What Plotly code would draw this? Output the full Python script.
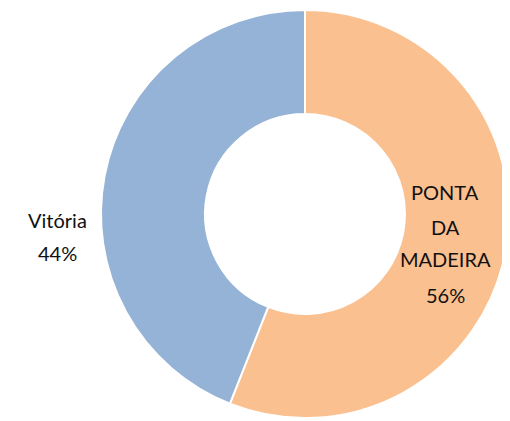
import plotly.graph_objects as go

labels = ["PONTA DA MADEIRA", "Vitória"]
values = [56, 44]
colors = ["#FAC090", "#95B3D7"]

W, H = 510, 421
OFF = 8  # default page body margin

fig = go.Figure()
fig.add_trace(go.Pie(
    labels=labels, values=values, hole=0.49, sort=False,
    direction="clockwise", rotation=0,
    marker=dict(colors=colors, line=dict(color="white", width=2)),
    textinfo="none", hoverinfo="label+percent", showlegend=False,
    domain=dict(x=[(101 - OFF) / W, (509 - OFF) / W],
                y=[1 - (418 - OFF) / H, 1 - (10 - OFF) / H]),
))

font = dict(family="Lato, Open Sans, sans-serif", size=20, color="#111111")
total = sum(values)
pct = [round(v / total * 100) for v in values]

lines_pm = ["PONTA", "DA", "MADEIRA", "%d%%" % pct[0]]
ys_pm = [192, 227, 259, 295]
for t, yy in zip(lines_pm, ys_pm):
    fig.add_annotation(x=(445 - OFF) / W, y=1 - (yy - OFF) / H, xref="paper", yref="paper",
                       text=t, showarrow=False, font=font, xanchor="center", yanchor="middle")

lines_v = ["Vitória", "%d%%" % pct[1]]
ys_v = [220, 253]
for t, yy in zip(lines_v, ys_v):
    fig.add_annotation(x=(57 - OFF) / W, y=1 - (yy - OFF) / H, xref="paper", yref="paper",
                       text=t, showarrow=False, font=font, xanchor="center", yanchor="middle")

fig.update_layout(width=W, height=H, margin=dict(l=0, r=0, t=0, b=0),
                  paper_bgcolor="white", plot_bgcolor="white")
fig.write_html("out.html")
